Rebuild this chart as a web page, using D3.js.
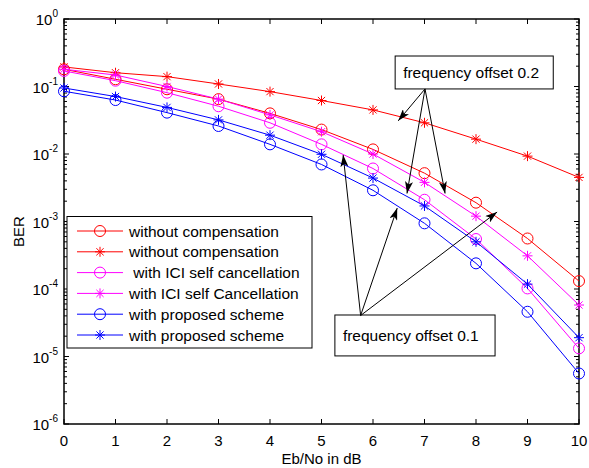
<!DOCTYPE html>
<html>
<head>
<meta charset="utf-8">
<script src="https://cdn.jsdelivr.net/npm/d3@7"></script>
<style>
  body { margin: 0; background: #fff; }
  svg { font-family: "Liberation Sans", Arial, sans-serif; }
</style>
</head>
<body>
<div id="chart"></div>
<script>
const snr = [0, 1, 2, 3, 4, 5, 6, 7, 8, 9, 10];

// BER values
const woCompCircle = [0.18, 0.128, 0.091, 0.065, 0.040, 0.023, 0.0117, 0.0052, 0.0019, 0.00056, 0.000131];
const woCompStar = [0.195, 0.16, 0.14, 0.109, 0.084, 0.062, 0.045, 0.029, 0.0166, 0.0093, 0.0045];
const iciCircle = [0.17, 0.122, 0.081, 0.051, 0.029, 0.0139, 0.0061, 0.0021, 0.00055, 0.000102, 0.0000132];
const iciStar = [0.18, 0.148, 0.1, 0.065, 0.038, 0.0214, 0.010, 0.0038, 0.0012, 0.00031, 0.0000579];
const propCircle = [0.085, 0.063, 0.041, 0.026, 0.0139, 0.0070, 0.0029, 0.00094, 0.00024, 0.000046, 0.0000056];
const propStar = [0.095, 0.071, 0.049, 0.032, 0.019, 0.0099, 0.0044, 0.0017, 0.0005, 0.000118, 0.000019];

const legendLabels = ["without compensation", "without compensation", " with ICI self cancellation",
  "with ICI self Cancellation", "with proposed scheme", "with proposed scheme"];
const yTickExps = [0, -1, -2, -3, -4, -5, -6];

const series = [
  { values: woCompCircle, color: "#ff0000", marker: "circle" },
  { values: woCompStar, color: "#ff0000", marker: "star" },
  { values: iciCircle, color: "#ff00ff", marker: "circle" },
  { values: iciStar, color: "#ff00ff", marker: "star" },
  { values: propCircle, color: "#0000ff", marker: "circle" },
  { values: propStar, color: "#0000ff", marker: "star" }
];

// annotation boxes and arrows in data units
const note02 = { text: "frequency offset 0.2", x0: 6.43, x1: 9.5, y0: 0.283, y1: 0.092,
  from: [7.01, 0.092], to: [[6.49, 0.031], [6.66, 0.0026], [7.4, 0.0026]] };
const note01 = { text: "frequency offset 0.1", x0: 5.26, x1: 8.37, y0: 4.12e-5, y1: 1.02e-5,
  from: [5.76, 4.05e-5], to: [[5.42, 0.0097], [6.47, 0.00158], [8.41, 0.00138]] };

const W = 589, H = 468;
const margin = { top: 19, right: 10, bottom: 44, left: 64 };
const width = W - margin.left - margin.right;
const height = H - margin.top - margin.bottom;

const svg = d3.select("#chart").append("svg")
  .attr("width", W).attr("height", H);

const defs = svg.append("defs");
defs.append("marker")
  .attr("id", "arrow")
  .attr("viewBox", "0 0 12 8")
  .attr("refX", 12).attr("refY", 4)
  .attr("markerWidth", 12).attr("markerHeight", 8)
  .attr("markerUnits", "userSpaceOnUse")
  .attr("orient", "auto")
  .append("path").attr("d", "M0,0 L12,4 L0,8 L3,4 Z").attr("fill", "#000");

const g = svg.append("g").attr("transform", `translate(${margin.left},${margin.top})`);

const x = d3.scaleLinear().domain([0, 10]).range([0, width]);
const y = d3.scaleLog().domain([1e-6, 1]).range([height, 0]);

// minor ticks on log axis
const minorVals = [];
yTickExps.slice(1).forEach(e => {
  for (let k = 2; k <= 9; k++) minorVals.push(k * Math.pow(10, e));
});

function drawAxes() {
  const majorY = yTickExps.map(e => Math.pow(10, e));
  // left & right
  [[0, 1], [width, -1]].forEach(([xp, dir]) => {
    g.append("g").selectAll("line.minor").data(minorVals).join("line")
      .attr("x1", xp).attr("x2", xp + dir * 3)
      .attr("y1", d => y(d)).attr("y2", d => y(d))
      .attr("stroke", "#000").attr("stroke-width", 1);
    g.append("g").selectAll("line.major").data(majorY).join("line")
      .attr("x1", xp).attr("x2", xp + dir * 5)
      .attr("y1", d => y(d)).attr("y2", d => y(d))
      .attr("stroke", "#000").attr("stroke-width", 1);
  });
  // bottom & top
  [[height, -1], [0, 1]].forEach(([yp, dir]) => {
    g.append("g").selectAll("line").data(snr).join("line")
      .attr("x1", d => x(d)).attr("x2", d => x(d))
      .attr("y1", yp).attr("y2", yp + dir * 5)
      .attr("stroke", "#000").attr("stroke-width", 1);
  });
  g.append("rect").attr("x", 0).attr("y", 0).attr("width", width).attr("height", height)
    .attr("fill", "none").attr("stroke", "#000").attr("stroke-width", 1.5);

  g.append("g").selectAll("text").data(snr).join("text")
    .attr("x", d => x(d)).attr("y", height + 22)
    .attr("text-anchor", "middle").attr("font-size", 15)
    .text(d => d);

  const yl = g.append("g").selectAll("text").data(yTickExps).join("text")
    .attr("x", -6).attr("y", d => y(Math.pow(10, d)) + 6)
    .attr("text-anchor", "end").attr("font-size", 15);
  yl.append("tspan").text("10");
  yl.append("tspan").attr("font-size", 10).attr("dy", -8).text(d => d);

  g.append("text").attr("x", width / 2).attr("y", height + 40)
    .attr("text-anchor", "middle").attr("font-size", 15).text("Eb/No in dB");
  g.append("text").attr("transform", `translate(-40,${height / 2 + 10}) rotate(-90)`)
    .attr("text-anchor", "middle").attr("font-size", 15).text("BER");
}

function drawMarker(sel, type, color) {
  if (type === "circle") {
    sel.append("circle").attr("r", 5.5).attr("fill", "none")
      .attr("stroke", color).attr("stroke-width", 1);
  } else {
    sel.append("path").attr("d", "M-5,0H5M0,-5V5M-3.6,-3.6L3.6,3.6M-3.6,3.6L3.6,-3.6")
      .attr("stroke", color).attr("stroke-width", 1).attr("fill", "none");
  }
}

drawAxes();

const line = d3.line().x((d, i) => x(snr[i])).y(d => y(d));

series.forEach(s => {
  g.append("path").datum(s.values).attr("d", line)
    .attr("fill", "none").attr("stroke", s.color).attr("stroke-width", 1);
  g.append("g").selectAll("g").data(s.values).join("g")
    .attr("transform", (d, i) => `translate(${x(snr[i])},${y(d)})`)
    .each(function () { drawMarker(d3.select(this), s.marker, s.color); });
});

// annotations
[note02, note01].forEach(n => {
  const bx = x(n.x0), by = y(n.y0);
  g.append("rect").attr("x", bx).attr("y", by)
    .attr("width", x(n.x1) - bx).attr("height", y(n.y1) - by)
    .attr("fill", "#fff").attr("stroke", "#000").attr("stroke-width", 1);
  g.append("text").attr("x", bx + 8).attr("y", (by + y(n.y1)) / 2 + 5.5)
    .attr("font-size", 15.5).text(n.text);
  n.to.forEach(t => {
    g.append("line")
      .attr("x1", x(n.from[0])).attr("y1", y(n.from[1]))
      .attr("x2", x(t[0])).attr("y2", y(t[1]))
      .attr("stroke", "#000").attr("stroke-width", 1)
      .attr("marker-end", "url(#arrow)");
  });
});

// legend
const lg = svg.append("g").attr("transform", "translate(67,216.5)");
lg.append("rect").attr("width", 245).attr("height", 131.5)
  .attr("fill", "#fff").attr("stroke", "#000").attr("stroke-width", 1);
series.forEach((s, i) => {
  const row = lg.append("g").attr("transform", `translate(0,${14.5 + i * 20.8})`);
  row.append("line").attr("x1", 10).attr("x2", 56).attr("stroke", s.color).attr("stroke-width", 1);
  const m = row.append("g").attr("transform", "translate(33,0)");
  drawMarker(m, s.marker, s.color);
  row.append("text").attr("x", 62).attr("y", 5.5).attr("font-size", 15.5)
    .attr("xml:space", "preserve").style("white-space", "pre").text(legendLabels[i]);
});
</script>
</body>
</html>
